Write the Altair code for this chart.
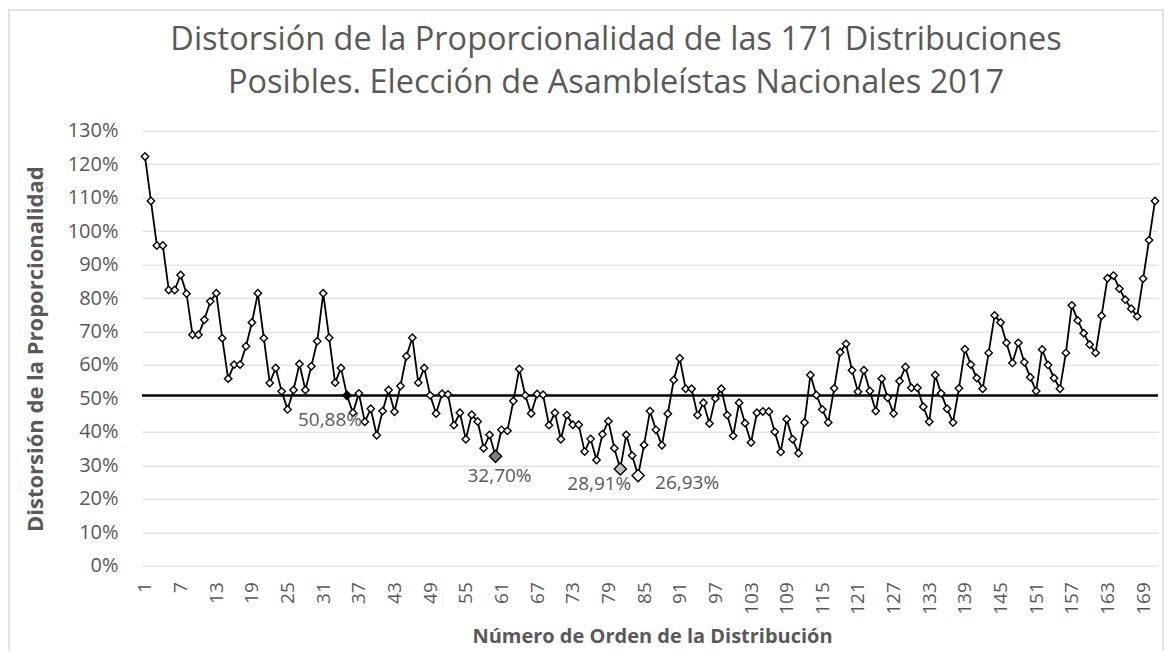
import altair as alt
import pandas as pd

# ---- data ----
orden = list(range(1, 172))
distorsion = [
    122.3, 109.0, 95.7, 95.7, 82.4, 82.4, 86.9, 81.3, 69.0, 69.0,
    73.5, 79.0, 81.4, 68.0, 55.9, 60.1, 60.1, 65.6, 72.7, 81.4,
    68.0, 54.6, 59.1, 52.1, 46.7, 52.5, 60.3, 52.5, 59.6, 67.1,
    81.4, 68.1, 54.7, 59.1, 50.88, 45.7, 51.5, 43.0, 46.9, 39.0,
    46.2, 52.5, 46.0, 53.7, 62.6, 68.1, 54.7, 59.1, 50.9, 45.5,
    51.4, 51.2, 42.0, 45.7, 37.8, 45.1, 43.1, 35.1, 39.1, 32.70,
    40.6, 40.3, 49.2, 58.8, 50.9, 45.5, 51.3, 51.1, 42.0, 45.7,
    37.8, 45.0, 42.1, 42.1, 34.1, 37.9, 31.6, 39.3, 43.2, 35.1,
    28.91, 39.1, 32.9, 26.93, 36.1, 46.2, 40.6, 36.0, 45.4, 55.5,
    62.0, 52.9, 52.9, 45.0, 48.7, 42.5, 50.0, 52.9, 45.0, 38.8,
    48.7, 42.6, 36.8, 45.7, 46.1, 46.1, 40.0, 34.0, 43.8, 37.8,
    33.6, 42.8, 57.0, 51.0, 46.7, 42.8, 53.0, 63.8, 66.3, 58.4,
    52.0, 58.4, 52.2, 46.2, 55.9, 50.2, 45.5, 55.2, 59.4, 53.2,
    53.2, 47.5, 43.0, 57.0, 51.5, 46.9, 42.8, 53.0, 64.7, 60.1,
    56.1, 52.9, 63.6, 74.8, 72.7, 66.6, 60.6, 66.6, 60.8, 56.3,
    52.2, 64.6, 60.0, 56.1, 52.9, 63.6, 77.8, 73.3, 69.5, 66.1,
    63.6, 74.7, 85.9, 86.7, 82.8, 79.5, 76.8, 74.5, 85.8, 97.3,
    109.0,
]
promedio = 50.88

destacados_orden = [35, 60, 81, 84]
destacados_valor = [50.88, 32.70, 28.91, 26.93]
destacados_texto = ["50,88%", "32,70%", "28,91%", "26,93%"]
destacados_color = ["#000000", "#7f7f7f", "#bfbfbf", "#ffffff"]
destacados_tam = [70, 150, 150, 150]

x_ticks = list(range(1, 172, 6))
y_ticks = [0.0, 0.1, 0.2, 0.3, 0.4, 0.5, 0.6, 0.7, 0.8, 0.9, 1.0, 1.1, 1.2, 1.3]

titulo = ["Distorsión de la Proporcionalidad de las 171 Distribuciones",
          "Posibles. Elección de Asambleístas Nacionales 2017"]

df = pd.DataFrame({"n": orden, "v": [d / 100 for d in distorsion]})
dfh = pd.DataFrame({
    "n": destacados_orden,
    "v": [d / 100 for d in destacados_valor],
    "t": destacados_texto,
    "c": destacados_color,
    "s": destacados_tam,
})

FONT = "Open Sans"
GRAY = "#595959"

x_enc = alt.X(
    "n:Q",
    scale=alt.Scale(domain=[0.5, 171.5], nice=False, zero=False),
    axis=alt.Axis(
        values=x_ticks, tickCount=500, format="d", labelAngle=270, grid=False,
        domain=False, ticks=False,
        labelPadding=16, labelFont=FONT, labelFontSize=19, labelColor=GRAY,
        title="Número de Orden de la Distribución", titleFont=FONT,
        titleFontSize=20, titleFontWeight="bold", titleColor=GRAY,
        titleX=510, titleY=71, titleBaseline="middle", titleAlign="center",
        labelFlush=False, labelOverlap=False,
    ),
)
y_enc = alt.Y(
    "v:Q",
    scale=alt.Scale(domain=[0, 1.3], nice=False),
    axis=alt.Axis(
        values=y_ticks, tickCount=500, format=".0%", grid=True,
        gridColor="#d9d9d9", gridWidth=1, domain=False, ticks=False,
        labelPadding=24, labelFont=FONT, labelFontSize=20, labelColor=GRAY,
        labelOverlap=False,
        title="Distorsión de la Proporcionalidad", titleFont=FONT,
        titleFontSize=22, titleFontWeight="bold", titleColor=GRAY,
        titleX=-107, titleY=218, titleAngle=270, titleBaseline="middle",
        titleAlign="center",
    ),
)

base = alt.Chart(df)

frame = alt.Chart(pd.DataFrame({"k": [0]})).mark_rect(
    fill="transparent", stroke="#d9d9d9", strokeWidth=1.5, clip=False
).encode(
    x=alt.value(-133), x2=alt.value(1021), y=alt.value(-120.7), y2=alt.value(560)
)

title_layers = []
for txt, yy in zip(titulo, [-80.7, -37.7]):
    title_layers.append(
        alt.Chart(pd.DataFrame({"t": [txt]})).mark_text(
            font=FONT, fontSize=32.5, color=GRAY, align="center",
            baseline="alphabetic"
        ).encode(x=alt.value(474), y=alt.value(yy), text="t:N")
    )

rule = alt.Chart(pd.DataFrame({"k": [0]})).mark_rule(
    color="black", strokeWidth=2.5
).encode(y=alt.datum(promedio / 100))

line = base.mark_line(color="black", strokeWidth=1.8).encode(x=x_enc, y=y_enc)

pts = base.mark_point(
    shape="diamond", filled=True, fill="white", stroke="black",
    strokeWidth=1.4, size=55, opacity=1
).encode(x="n:Q", y="v:Q")

hl = alt.Chart(dfh).mark_point(
    shape="diamond", filled=True, stroke="black", strokeWidth=1.4, opacity=1
).encode(
    x="n:Q", y="v:Q",
    fill=alt.Fill("c:N", scale=None),
    size=alt.Size("s:Q", scale=None),
)

offsets = [(-17, 25), (4, 20), (-21, 15), (49, 7)]
labels = []
for i, (dx, dy) in enumerate(offsets):
    labels.append(
        alt.Chart(dfh.iloc[[i]]).mark_text(
            font=FONT, fontSize=19, color=GRAY, dx=dx, dy=dy,
            baseline="middle", align="center"
        ).encode(x="n:Q", y="v:Q", text="t:N")
    )

chart = alt.layer(frame, *title_layers, rule, line, pts, hl, *labels).properties(
    width=1016, height=435,
    padding={"left": 134, "top": 122.7, "right": 6, "bottom": 85},
    autosize="none",
).configure_view(stroke=None).configure_axis(labelOverlap=False)

chart.save("out.html", embed_options={"renderer": "svg", "actions": False})
